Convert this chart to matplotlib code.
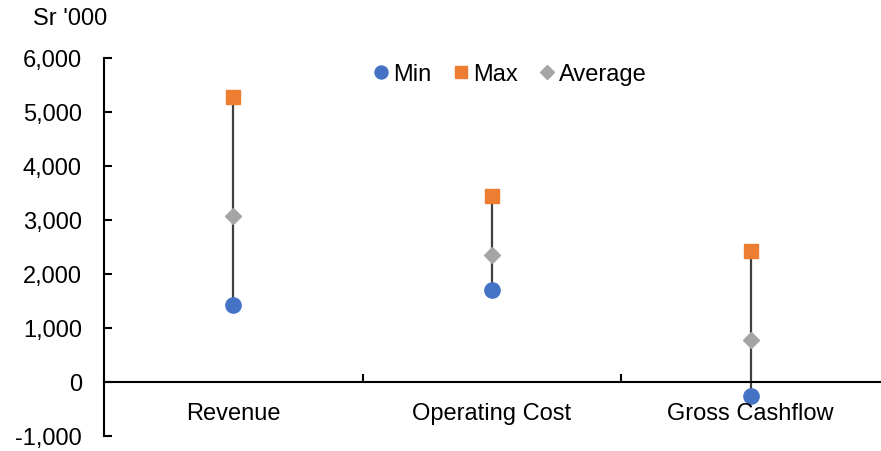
import matplotlib
matplotlib.use("Agg")
import matplotlib.pyplot as plt
from matplotlib.transforms import blended_transform_factory

plt.rcParams['font.family'] = ['Liberation Sans', 'DejaVu Sans']

categories = ["Revenue", "Operating Cost", "Gross Cashflow"]
min_vals = [1430, 1710, -250]
max_vals = [5270, 3440, 2425]
avg_vals = [3075, 2350, 780]
y_ticks = [-1000, 0, 1000, 2000, 3000, 4000, 5000, 6000]
y_unit = "Sr '000"

blue = "#4472C4"
orange = "#ED7D31"
gray = "#A5A5A5"
line_col = "#404040"
fs = 17

fig = plt.figure(figsize=(8.81, 4.52), dpi=100)
ax = fig.add_axes([104 / 881, 1 - 437 / 452, 776 / 881, (437 - 59) / 452])

x = list(range(len(categories)))
ax.vlines(x, min_vals, max_vals, color=line_col, linewidth=1.6, zorder=2)
ax.plot(x, min_vals, linestyle="none", marker="o", markersize=11,
        color=blue, label="Min", zorder=3)
ax.plot(x, max_vals, linestyle="none", marker="s", markersize=10.5,
        color=orange, label="Max", zorder=3)
ax.plot(x, avg_vals, linestyle="none", marker="D", markersize=7.8,
        color=gray, label="Average", zorder=3)

ax.set_xlim(-0.5, len(categories) - 0.5)
ax.set_ylim(-1000, 6000)
ax.set_yticks(y_ticks)
ax.set_yticklabels([f"{v:,}" for v in y_ticks], fontsize=fs)
ax.tick_params(axis="y", direction="in", length=6, width=1.5, pad=16,
               colors="black")

ax.spines["top"].set_visible(False)
ax.spines["right"].set_visible(False)
ax.spines["left"].set_linewidth(1.5)
ax.spines["bottom"].set_position(("data", 0))
ax.spines["bottom"].set_linewidth(1.5)

ax.set_xticks([0.5, 1.5])
ax.set_xticklabels([])
ax.tick_params(axis="x", direction="in", length=6, width=1.5)

trans = blended_transform_factory(ax.transData, ax.transAxes)
for xi, name in zip(x, categories):
    ax.text(xi, 1 - (414 - 59) / (437 - 59), name, transform=trans,
            ha="center", va="center", fontsize=fs)

fig.text(70 / 881, 1 - 19 / 452, y_unit, ha="center", va="center", fontsize=fs)

ax.legend(loc="center", bbox_to_anchor=(508 / 881, 1 - 75 / 452),
          bbox_transform=fig.transFigure, ncol=3, frameon=False,
          fontsize=fs, handletextpad=0.0, columnspacing=0.75,
          handlelength=1.0, borderaxespad=0, markerscale=0.85)

fig.savefig("out.png", dpi=100)
